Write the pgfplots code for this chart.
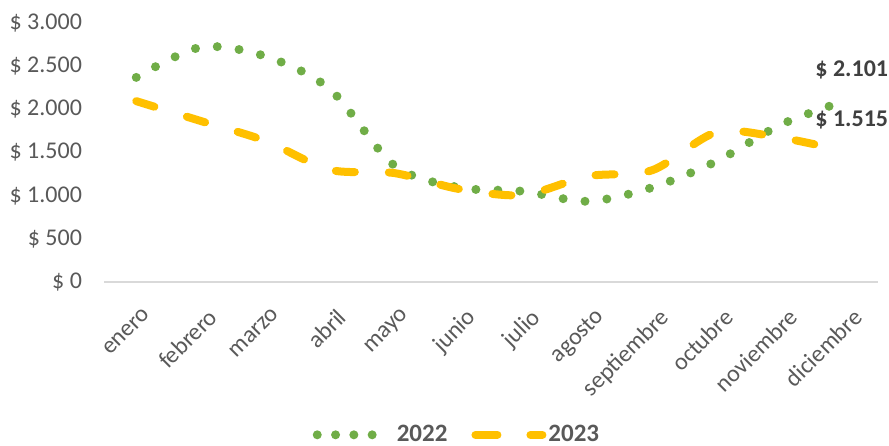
\documentclass[border=0pt]{standalone}
\usepackage{fontspec}
\setmainfont{Carlito}
\usepackage{pgfplots}
\pgfplotsset{compat=1.18}
\definecolor{g22}{HTML}{70AD47}
\definecolor{y23}{HTML}{FFC000}
\definecolor{lab}{HTML}{595959}
\definecolor{dlab}{HTML}{404040}
\definecolor{axl}{HTML}{D9D9D9}
\begin{document}
\begin{tikzpicture}
\path[use as bounding box] (0,0) rectangle (444.5pt,-222.5pt);
\begin{axis}[
  at={(52pt,-141pt)}, anchor=south west,
  scale only axis, width=387pt, height=129.5pt,
  xmin=-0.5, xmax=11.5, ymin=0, ymax=3000,
  axis lines*=left,
  x axis line style={draw=axl, line width=0.8pt},
  y axis line style={draw=none},
  tick style={draw=none},
  xtick={0,...,11},
  xticklabels={enero,febrero,marzo,abril,mayo,junio,julio,agosto,septiembre,octubre,noviembre,diciembre},
  ytick={0,500,1000,1500,2000,2500,3000},
  yticklabels={\$ 0,\$ 500,\$ 1.000,\$ 1.500,\$ 2.000,\$ 2.500,\$ 3.000},
  ticklabel style={font=\fontsize{12}{14}\selectfont, text=lab},
  yticklabel style={anchor=east, xshift=-7.5pt},
  xticklabel style={rotate=45, anchor=north east, inner sep=0pt, xshift=-6.5pt, yshift=-11pt},
  clip=false,
  legend columns=2,
  legend style={at={(0.456,-0.59)}, anchor=center, draw=none, fill=none,
    font=\bfseries\fontsize{12.5}{14}\selectfont, text=lab,
    nodes={inner xsep=1pt},
    /tikz/every even column/.append style={column sep=11pt}},
]
\addplot[g22, line width=4.5pt, line cap=round, dash pattern=on 0pt off 11pt, smooth,
  legend image code/.code={\draw[g22, line width=4.5pt, line cap=round, dash pattern=on 0pt off 9.15pt] (0pt,0pt) -- (27.6pt,0pt); \path (36.5pt,0pt);}]
  coordinates {(0,2370) (1,2720) (2,2615) (3,2235) (4,1350) (5,1095) (6,1050) (7,935) (8,1095) (9,1400) (10,1825) (11,2101)};
\addlegendentry{2022}
\addplot[y23, line width=4pt, line cap=round, dash pattern=on 9.5pt off 17pt, smooth,
  legend image code/.code={\draw[y23, line width=4pt, line cap=round, dash pattern=on 11pt off 16.5pt] (0pt,0pt) -- (33.5pt,0pt);}]
  coordinates {(0,2095) (1,1865) (2,1635) (3,1300) (4,1262) (5,1078) (6,1008) (7,1225) (8,1295) (9,1735) (10,1670) (11,1515)};
\addlegendentry{2023}
\node[font=\bfseries\fontsize{12}{14}\selectfont, text=dlab, anchor=center, xshift=3pt, yshift=15.3pt] at (axis cs:11,2101) {\$ 2.101};
\node[font=\bfseries\fontsize{12}{14}\selectfont, text=dlab, anchor=center, xshift=3pt, yshift=15.5pt] at (axis cs:11,1515) {\$ 1.515};
\end{axis}
\end{tikzpicture}
\end{document}
